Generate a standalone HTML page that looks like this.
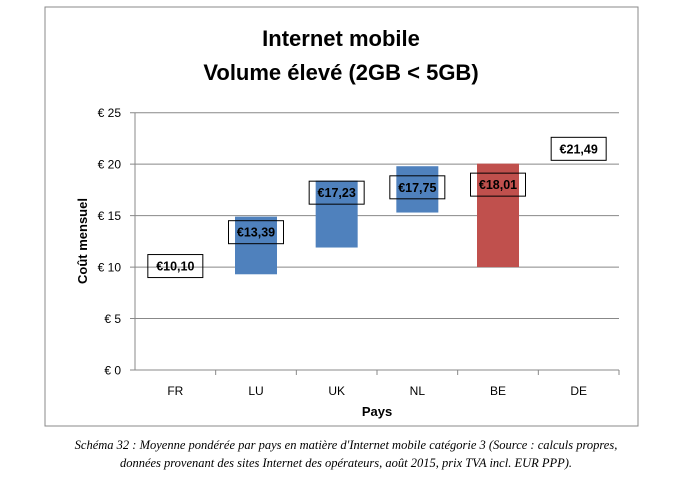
<!DOCTYPE html>
<html><head><meta charset="utf-8"><style>
body{margin:0;background:#fff;width:692px;height:488px;overflow:hidden}
svg text{font-family:"Liberation Sans",sans-serif}
</style></head><body>
<svg width="692" height="488">
<rect x="45" y="7" width="593" height="419" fill="#fff" stroke="#888" stroke-width="1"/>
<text x="341" y="46" text-anchor="middle" font-size="22" font-weight="bold">Internet mobile</text>
<text x="341" y="80" text-anchor="middle" font-size="22" font-weight="bold">Volume élevé (2GB &lt; 5GB)</text>
<g id="grid"></g><g id="bars"></g><g id="labels"></g>
<text transform="translate(87,241) rotate(-90)" text-anchor="middle" font-size="13" font-weight="bold">Coût mensuel</text>
<text x="377" y="416" text-anchor="middle" font-size="13" font-weight="bold">Pays</text>
<text x="346" y="449" text-anchor="middle" font-size="12.5" font-style="italic" font-family="Liberation Serif,serif" style="font-family:'Liberation Serif',serif">Schéma 32 : Moyenne pondérée par pays en matière d'Internet mobile catégorie 3 (Source : calculs propres,</text>
<text x="346" y="467" text-anchor="middle" font-size="12.5" font-style="italic" style="font-family:'Liberation Serif',serif">données provenant des sites Internet des opérateurs, août 2015, prix TVA incl. EUR PPP).</text>
</svg>
<script>
const categories=["FR","LU","UK","NL","BE","DE"];
const barLow=[null,9.3,11.9,15.3,10.0,null];
const barHigh=[null,14.9,18.4,19.8,20.05,null];
const labelValues=[10.10,13.39,17.23,17.75,18.01,21.49];
const labelTexts=["€10,10","€13,39","€17,23","€17,75","€18,01","€21,49"];
const barColors=[null,"#4f81bd","#4f81bd","#4f81bd","#c0504d",null];
const yTicks=[0,5,10,15,20,25];
const NS="http://www.w3.org/2000/svg";
const X0=135,X1=619,Y0=370,YT=112.7,YMAX=25;
const y=v=>Y0-(v/YMAX)*(Y0-YT);
const bw=(X1-X0)/categories.length;
const xc=i=>X0+bw*(i+0.5);
function mk(tag,attrs,parent,txt){const e=document.createElementNS(NS,tag);for(const k in attrs)e.setAttribute(k,attrs[k]);if(txt!=null)e.textContent=txt;parent.appendChild(e);return e;}
const grid=document.getElementById('grid'),bars=document.getElementById('bars'),labels=document.getElementById('labels');
yTicks.forEach(t=>{
 const l=mk('line',{x1:X0-5,x2:X1,y1:y(t),y2:y(t),stroke:'#888','stroke-width':1},grid);
 
 
 const tx=mk('text',{x:121,y:y(t)+4.5,'text-anchor':'end','font-size':12},grid,'€ '+t);
 
 
});
const ax=mk('line',{x1:X0,x2:X0,y1:YT,y2:Y0,stroke:'#888'},grid);


categories.forEach((c,i)=>{
 const tk=mk('line',{x1:X0+bw*(i+1),x2:X0+bw*(i+1),y1:Y0,y2:Y0+5,stroke:'#888'},grid);
 
 
 const t=mk('text',{x:xc(i),y:Y0+25,'text-anchor':'middle','font-size':12},grid,c);
 
 
 if(barLow[i]!=null){
  const r=mk('rect',{x:xc(i)-21,y:y(barHigh[i]),width:42,height:y(barLow[i])-y(barHigh[i]),fill:barColors[i]},bars);
  
  
 }
 const cy=y(labelValues[i]);
 const b=mk('rect',{x:xc(i)-27.5,y:cy-11.5,width:55,height:23,fill:'none',stroke:'#000','stroke-width':1},labels);
 
 
 const lt=mk('text',{x:xc(i),y:cy+4.5,'text-anchor':'middle','font-size':12.5,'font-weight':'bold'},labels,labelTexts[i]);
 
 
});
</script>
</body></html>
